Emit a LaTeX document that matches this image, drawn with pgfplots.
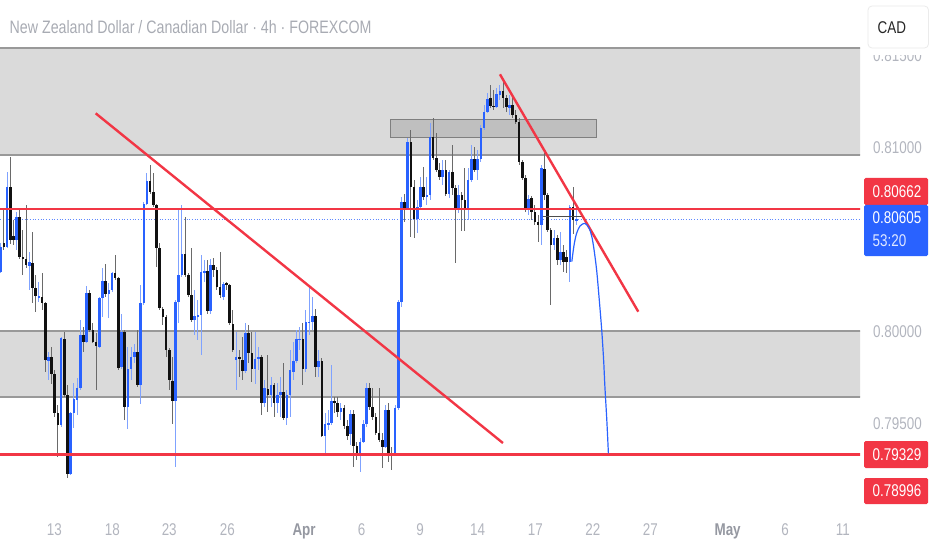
\documentclass[border=0pt]{standalone}
\usepackage{pgfplots}
\pgfplotsset{compat=1.18}
\usepackage{pgfplotstable}
\usepackage{fontspec}
\setmainfont{Liberation Sans}
\newfontfamily\tvfont[FakeStretch=0.79]{Liberation Sans}
\definecolor{tvblue}{HTML}{2962FF}
\definecolor{tvred}{HTML}{F23645}
\definecolor{zone}{HTML}{DADADA}
\definecolor{zoneline}{HTML}{999999}
\definecolor{boxfill}{HTML}{BFBFBF}
\definecolor{boxline}{HTML}{7F7F7F}
\definecolor{lbl}{HTML}{B2B5BE}
\definecolor{lbldark}{HTML}{9598A1}
\definecolor{titlegray}{HTML}{A8ABB3}
\definecolor{wickblue}{HTML}{7FA2FF}
\definecolor{wickblack}{HTML}{6A6A6A}
\definecolor{candleblack}{HTML}{111111}

\pgfplotstableread{
i u o h l c
0 1 0.80323 0.80477 0.80314 0.80459
1 0 0.80480 0.80667 0.80441 0.80459
2 1 0.80459 0.80866 0.80450 0.80785
3 0 0.80785 0.80948 0.80477 0.80495
4 0 0.80517 0.80604 0.80468 0.80495
5 1 0.80495 0.80649 0.80441 0.80622
6 0 0.80622 0.80658 0.80395 0.80404
7 0 0.80404 0.80549 0.80305 0.80390
8 0 0.80390 0.80685 0.80341 0.80359
9 1 0.80355 0.80432 0.80223 0.80374
10 0 0.80368 0.80540 0.80151 0.80232
11 0 0.80232 0.80305 0.80105 0.80187
12 1 0.80183 0.80268 0.80160 0.80192
13 0 0.80187 0.80314 0.80114 0.80151
14 0 0.80151 0.80160 0.79779 0.79843
15 1 0.79839 0.79888 0.79734 0.79857
16 0 0.79857 0.79915 0.79716 0.79767
17 0 0.79767 0.79788 0.79535 0.79553
18 0 0.79553 0.79598 0.79317 0.79489
19 1 0.79489 0.79969 0.79480 0.79960
20 0 0.79955 0.79997 0.79643 0.79652
21 0 0.79652 0.79707 0.79200 0.79223
22 1 0.79223 0.79562 0.79218 0.79553
23 1 0.79553 0.79716 0.79471 0.79629
24 1 0.79629 0.79743 0.79544 0.79694
25 1 0.79689 0.80060 0.79680 0.79979
26 0 0.79979 0.80024 0.79888 0.79942
27 1 0.79942 0.80245 0.79933 0.80209
28 0 0.80209 0.80223 0.79997 0.80006
29 0 0.80006 0.80042 0.79933 0.79942
30 0 0.79942 0.79991 0.79680 0.79919
31 1 0.79915 0.80187 0.79906 0.80178
32 1 0.80178 0.80341 0.80078 0.80274
33 0 0.80274 0.80368 0.80187 0.80201
34 1 0.80201 0.80259 0.80069 0.80223
35 1 0.80223 0.80323 0.80214 0.80317
36 0 0.80317 0.80413 0.80277 0.80287
37 0 0.80287 0.80296 0.79788 0.79797
38 1 0.79806 0.80096 0.79797 0.79997
39 0 0.79997 0.80006 0.79517 0.79589
40 1 0.79589 0.79915 0.79471 0.79797
41 1 0.79797 0.79915 0.79734 0.79861
42 1 0.79861 0.79933 0.79825 0.79888
43 0 0.79888 0.80006 0.79698 0.79707
44 1 0.79707 0.80250 0.79607 0.80151
45 1 0.80151 0.80703 0.80142 0.80694
46 1 0.80694 0.80857 0.80685 0.80817
47 0 0.80817 0.80902 0.80748 0.80758
48 0 0.80758 0.80861 0.80676 0.80685
49 0 0.80685 0.80694 0.80350 0.80450
50 0 0.80450 0.80477 0.80114 0.80123
51 0 0.80118 0.80133 0.80033 0.80078
52 0 0.80078 0.80087 0.79861 0.79897
53 0 0.79897 0.79906 0.79680 0.79734
54 0 0.79730 0.79861 0.79498 0.79622
55 1 0.79622 0.80169 0.79263 0.80160
56 1 0.80160 0.80667 0.80042 0.80305
57 1 0.80305 0.80685 0.80296 0.80419
58 0 0.80419 0.80622 0.80296 0.80305
59 0 0.80305 0.80314 0.80187 0.80196
60 0 0.80196 0.80450 0.80051 0.80060
61 1 0.80060 0.80223 0.79979 0.80082
62 1 0.80082 0.80169 0.79951 0.80087
63 1 0.80087 0.80413 0.79870 0.80323
64 1 0.80317 0.80386 0.80268 0.80328
65 0 0.80328 0.80386 0.80096 0.80109
66 1 0.80109 0.80395 0.80096 0.80359
67 0 0.80359 0.80395 0.80296 0.80332
68 0 0.80332 0.80350 0.80223 0.80241
69 0 0.80241 0.80432 0.80178 0.80196
70 1 0.80187 0.80268 0.80169 0.80259
71 0 0.80259 0.80268 0.80223 0.80250
72 0 0.80250 0.80259 0.80033 0.80042
73 0 0.80042 0.80114 0.79888 0.79897
74 1 0.79843 0.79997 0.79680 0.79857
75 0 0.79857 0.79897 0.79752 0.79846
76 0 0.79846 0.79969 0.79734 0.79785
77 1 0.79785 0.80042 0.79770 0.79991
78 0 0.79991 0.80033 0.79825 0.79883
79 0 0.79883 0.79997 0.79725 0.79797
80 1 0.79797 0.79997 0.79716 0.79852
81 1 0.79852 0.79915 0.79788 0.79861
82 0 0.79861 0.79870 0.79544 0.79607
83 1 0.79607 0.79734 0.79589 0.79689
84 0 0.79689 0.79870 0.79562 0.79652
85 1 0.79652 0.79752 0.79589 0.79707
86 0 0.79707 0.79716 0.79535 0.79607
87 1 0.79607 0.79716 0.79553 0.79652
88 1 0.79652 0.79752 0.79535 0.79667
89 0 0.79667 0.79825 0.79517 0.79526
90 1 0.79526 0.79680 0.79489 0.79652
91 1 0.79652 0.79897 0.79535 0.79788
92 1 0.79779 0.79942 0.79734 0.79839
93 1 0.79839 0.80006 0.79825 0.79960
94 1 0.79955 0.80024 0.79897 0.79960
95 0 0.79960 0.80042 0.79707 0.79792
96 1 0.79792 0.80114 0.79779 0.80051
97 1 0.80047 0.80250 0.79979 0.80051
98 1 0.80051 0.80187 0.80006 0.80084
99 0 0.80084 0.80123 0.79752 0.79806
100 1 0.79806 0.79897 0.79752 0.79839
101 0 0.79839 0.79852 0.79426 0.79430
102 1 0.79430 0.79553 0.79326 0.79498
103 1 0.79493 0.79571 0.79462 0.79498
104 1 0.79498 0.79815 0.79489 0.79622
105 0 0.79622 0.79643 0.79553 0.79607
106 0 0.79607 0.79643 0.79535 0.79562
107 1 0.79562 0.79607 0.79517 0.79580
108 0 0.79580 0.79598 0.79471 0.79484
109 0 0.79484 0.79517 0.79408 0.79430
110 1 0.79440 0.79571 0.79380 0.79549
111 0 0.79549 0.79571 0.79263 0.79375
112 0 0.79375 0.79398 0.79299 0.79326
113 1 0.79326 0.79417 0.79235 0.79398
114 1 0.79398 0.79516 0.79390 0.79495
115 1 0.79495 0.79716 0.79480 0.79689
116 0 0.79689 0.79716 0.79571 0.79589
117 0 0.79589 0.79689 0.79516 0.79534
118 0 0.79534 0.79553 0.79435 0.79447
119 0 0.79447 0.79689 0.79398 0.79411
120 0 0.79411 0.79444 0.79254 0.79371
121 1 0.79371 0.79598 0.79362 0.79571
122 0 0.79571 0.79607 0.79290 0.79335
123 0 0.79335 0.79371 0.79245 0.79331
124 1 0.79335 0.79598 0.79326 0.79580
125 1 0.79580 0.80168 0.79571 0.80159
126 1 0.80159 0.80730 0.80132 0.80703
127 0 0.80703 0.80748 0.80594 0.80667
128 1 0.80667 0.81049 0.80658 0.81027
129 0 0.81027 0.81092 0.80511 0.80784
130 0 0.80784 0.80821 0.80504 0.80607
131 1 0.80607 0.80712 0.80531 0.80675
132 1 0.80675 0.80839 0.80658 0.80784
133 0 0.80784 0.80893 0.80712 0.80730
134 1 0.80730 0.80839 0.80685 0.80739
135 1 0.80739 0.81130 0.80712 0.81054
136 0 0.81054 0.81158 0.80929 0.80940
137 0 0.80940 0.81076 0.80864 0.80875
138 0 0.80875 0.80913 0.80821 0.80839
139 1 0.80839 0.80929 0.80794 0.80875
140 0 0.80875 0.80929 0.80733 0.80745
141 1 0.80745 0.80875 0.80723 0.80866
142 0 0.80866 0.81011 0.80739 0.80775
143 0 0.80775 0.80794 0.80368 0.80658
144 1 0.80658 0.80794 0.80641 0.80739
145 0 0.80739 0.80757 0.80543 0.80712
146 0 0.80712 0.80886 0.80543 0.80658
147 1 0.80658 0.80886 0.80603 0.80821
148 1 0.80821 0.81011 0.80810 0.80935
149 0 0.80935 0.81000 0.80864 0.80875
150 1 0.80875 0.80984 0.80821 0.80935
151 1 0.80935 0.81120 0.80918 0.81105
152 1 0.81105 0.81228 0.81092 0.81192
153 1 0.81192 0.81293 0.81185 0.81265
154 0 0.81265 0.81337 0.81212 0.81224
155 0 0.81224 0.81310 0.81201 0.81219
156 1 0.81219 0.81321 0.81212 0.81286
157 1 0.81286 0.81337 0.81255 0.81304
158 0 0.81304 0.81373 0.81212 0.81265
159 0 0.81265 0.81283 0.81190 0.81219
160 1 0.81212 0.81283 0.81174 0.81228
161 0 0.81228 0.81273 0.81158 0.81174
162 0 0.81174 0.81201 0.81125 0.81137
163 0 0.81137 0.81158 0.80902 0.80920
164 0 0.80920 0.80929 0.80821 0.80830
165 0 0.80830 0.80848 0.80647 0.80667
166 1 0.80667 0.80739 0.80630 0.80721
167 0 0.80721 0.80734 0.80603 0.80648
168 0 0.80648 0.80685 0.80576 0.80594
169 0 0.80594 0.80630 0.80484 0.80576
170 1 0.80576 0.80902 0.80467 0.80884
171 0 0.80884 0.80966 0.80712 0.80739
172 0 0.80739 0.80750 0.80538 0.80549
173 0 0.80549 0.80560 0.80141 0.80467
174 1 0.80467 0.80549 0.80440 0.80507
175 0 0.80507 0.80522 0.80359 0.80386
176 1 0.80386 0.80538 0.80359 0.80429
177 0 0.80429 0.80467 0.80321 0.80375
178 0 0.80402 0.80440 0.80316 0.80375
179 1 0.80375 0.80685 0.80268 0.80675
180 0 0.80675 0.80784 0.80531 0.80603
181 1 0.80603 0.80685 0.80576 0.80605
}\candles

\begin{document}
\begin{tikzpicture}[x=1pt,y=1pt]
\useasboundingbox (0,0) rectangle (932,550);
\begin{axis}[
  at={(0pt,38pt)}, anchor=south west,
  scale only axis, width=860pt, height=512pt,
  xmin=-0.22, xmax=270.22, ymin=0.790163, ymax=0.817989,
  axis line style={draw=none},
  major tick length=0pt,
  scaled y ticks=false, scaled x ticks=false,
  xtick={16.9,35.1,53.0,71.3,95.4,113.5,131.9,150.0,168.1,186.2,204.3,228.6,246.7,264.8},
  xticklabels={13,18,23,26,{\bfseries\color{lbldark}Apr},6,9,14,17,22,27,{\bfseries\color{lbldark}May},6,11},
  xticklabel style={font=\tvfont\fontsize{17}{17}\selectfont, text=lbl, anchor=base, yshift=-23pt, inner sep=0pt},
  ytick={0.795,0.800,0.810,0.815},
  yticklabel pos=right,
  yticklabel style={font=\tvfont\fontsize{17}{17}\selectfont, text=lbl, anchor=base west, xshift=13pt, yshift=-6.2pt, inner sep=0pt},
  /pgf/number format/assume math mode=true,
  yticklabel={\pgfmathprintnumber[fixed,fixed zerofill,precision=5]{\tick}},
  unbounded coords=discard,
]
% zones
\addplot[fill=zone, draw=none] coordinates {(-1,0.80957) (272,0.80957) (272,0.81538) (-1,0.81538)} --cycle;
\addplot[fill=zone, draw=none] coordinates {(-1,0.79641) (272,0.79641) (272,0.80000) (-1,0.80000)} --cycle;
\addplot[zoneline, line width=1.6pt] coordinates {(-1,0.81538) (272,0.81538)};
\addplot[zoneline, line width=1.6pt] coordinates {(-1,0.80957) (272,0.80957)};
\addplot[zoneline, line width=1.6pt] coordinates {(-1,0.80000) (272,0.80000)};
\addplot[zoneline, line width=1.6pt] coordinates {(-1,0.79641) (272,0.79641)};
% dark box
\addplot[fill=boxfill, draw=boxline, line width=1pt] coordinates {(122.7,0.81054) (187.2,0.81054) (187.2,0.81152) (122.7,0.81152)} --cycle;
% current price dotted line
\addplot[tvblue!75, line width=0.8pt, dash pattern=on 0.9pt off 1.8pt] coordinates {(-1,0.80605) (272,0.80605)};
% wicks
\addplot[draw=none, restrict expr to domain={\thisrow{u}}{0.5:1.5},
  error bars/.cd, y dir=both, y explicit, error mark=none,
  error bar style={draw=wickblue, solid, line width=1pt}]
  table[x=i, y expr={(\thisrow{h}+\thisrow{l})/2}, y error expr={(\thisrow{h}-\thisrow{l})/2}]{\candles};
\addplot[draw=none, restrict expr to domain={\thisrow{u}}{-0.5:0.5},
  error bars/.cd, y dir=both, y explicit, error mark=none,
  error bar style={draw=wickblack, solid, line width=1pt}]
  table[x=i, y expr={(\thisrow{h}+\thisrow{l})/2}, y error expr={(\thisrow{h}-\thisrow{l})/2}]{\candles};
% bodies
\addplot[draw=none, restrict expr to domain={\thisrow{u}}{0.5:1.5},
  error bars/.cd, y dir=both, y explicit, error mark=none,
  error bar style={draw=tvblue, solid, line width=2.6pt}]
  table[x=i, y expr={(\thisrow{o}+\thisrow{c})/2}, y error expr={max(abs(\thisrow{c}-\thisrow{o})/2,0.00003)}]{\candles};
\addplot[draw=none, restrict expr to domain={\thisrow{u}}{-0.5:0.5},
  error bars/.cd, y dir=both, y explicit, error mark=none,
  error bar style={draw=candleblack, solid, line width=2.6pt}]
  table[x=i, y expr={(\thisrow{o}+\thisrow{c})/2}, y error expr={max(abs(\thisrow{c}-\thisrow{o})/2,0.00003)}]{\candles};
% short dark level line
\addplot[black!70, line width=0.9pt] coordinates {(170.5,0.80624) (183.1,0.80624)};
% red horizontal levels
\addplot[tvred, line width=2.5pt] coordinates {(-1,0.80662) (272,0.80662)};
\addplot[tvred, line width=2.5pt] coordinates {(-1,0.79329) (272,0.79329)};
% trend lines
\addplot[tvred, line width=2.4pt] coordinates {(29.87,0.81183) (157.95,0.79391)};
\addplot[tvred, line width=2.4pt] coordinates {(157.0,0.81395) (200.5,0.80105)};
% projection curve
\addplot[tvblue, line width=1.2pt, smooth] coordinates {
(179.6,0.80377) (180.3,0.80467) (181.1,0.80531) (182.2,0.80571) (183.7,0.80585)
(185.0,0.80560) (185.9,0.80512) (186.6,0.80440) (187.4,0.80331) (188.1,0.80196)
(189.0,0.80005) (189.6,0.79842) (190.0,0.79697) (190.6,0.79516) (191.1,0.79335)};
\end{axis}
% white mask over top of price scale
\fill[white] (861,495) rectangle (932,550);
% title
\node[anchor=base west, inner sep=0pt, text=titlegray, font=\tvfont\fontsize{18}{18}\selectfont] at (9.5,516.7) {New Zealand Dollar / Canadian Dollar · 4h · FOREXCOM};
% CAD box
\draw[draw=black!8, fill=white, line width=0.8pt, rounded corners=4pt] (868,502) rectangle (928.5,544);
\node[anchor=base west, inner sep=0pt, text=black!85, font=\tvfont\fontsize{17}{17}\selectfont] at (877.5,516.7) {CAD};
% price labels
\fill[tvred, rounded corners=1.5pt] (864,345) rectangle (928,372);
\node[anchor=base west, inner sep=0pt, text=white, font=\tvfont\fontsize{17}{17}\selectfont] at (872.5,352.3) {0.80662};
\fill[tvblue, rounded corners=1.5pt] (864,294) rectangle (928,345);
\node[anchor=base west, inner sep=0pt, text=white, font=\tvfont\fontsize{17}{17}\selectfont] at (872.5,326.3) {0.80605};
\node[anchor=base west, inner sep=0pt, text=white!85!tvblue, font=\tvfont\fontsize{17}{17}\selectfont] at (872.5,303.3) {53:20};
\fill[tvred, rounded corners=1.5pt] (864,82) rectangle (928,109);
\node[anchor=base west, inner sep=0pt, text=white, font=\tvfont\fontsize{17}{17}\selectfont] at (872.5,89.3) {0.79329};
\fill[tvred, rounded corners=1.5pt] (864,46) rectangle (928,72);
\node[anchor=base west, inner sep=0pt, text=white, font=\tvfont\fontsize{17}{17}\selectfont] at (872.5,53.3) {0.78996};
\end{tikzpicture}
\end{document}
